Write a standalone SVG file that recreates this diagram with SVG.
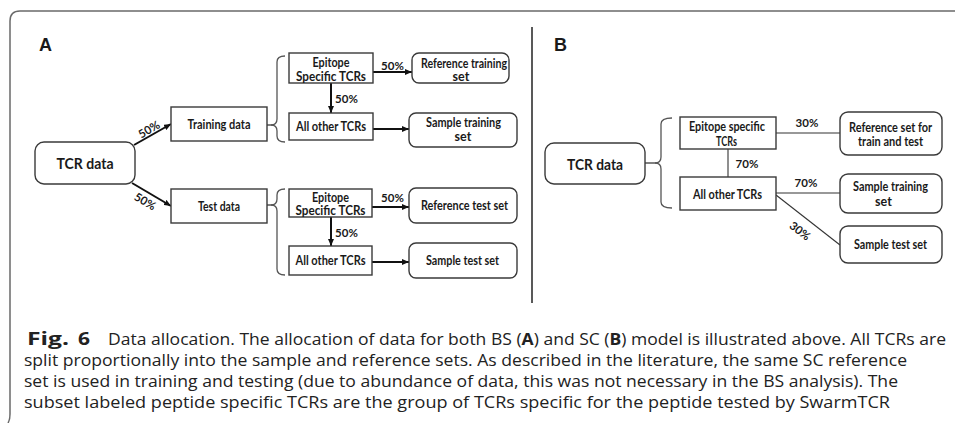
<svg xmlns="http://www.w3.org/2000/svg" width="955" height="423" viewBox="0 0 955 423">
<style>
.box{fill:#fff;stroke:#3a3a3a;stroke-width:1.4}
.lbl{font-family:Lato,"Liberation Sans",sans-serif;font-weight:bold;font-size:12.5px;fill:#1a1a1a;text-anchor:middle}
.big{font-family:Lato,"Liberation Sans",sans-serif;font-weight:bold;font-size:16px;fill:#1a1a1a;text-anchor:middle}
.pct{font-family:Lato,"Liberation Sans",sans-serif;font-weight:bold;font-size:11.5px;fill:#1a1a1a;text-anchor:middle}
.panel{font-family:"Liberation Sans",Arial,sans-serif;font-weight:bold;font-size:18px;fill:#1a1a1a}
.arr{stroke:#111;stroke-width:2;fill:none;marker-end:url(#ah)}
.thin{stroke:#333;stroke-width:1.1;fill:none}
.brace{stroke:#555;stroke-width:1.3;fill:none}
.cap{font-family:"Open Sans","Noto Sans",sans-serif;font-size:16.8px;fill:#222}
.capb{font-weight:bold}
.fig{font-family:"Open Sans","Noto Sans",sans-serif;font-size:17.5px;font-weight:bold;fill:#222}
</style>
<defs>
<marker id="ah" markerWidth="7" markerHeight="6" refX="7" refY="3" orient="auto" markerUnits="userSpaceOnUse">
<path d="M0,0 L7,3 L0,6 Z" fill="#111"/>
</marker>
</defs>
<rect width="955" height="423" fill="#fff"/>
<path d="M8,423 Q10,420 10,414 V21 Q10,11 20,11 H955" fill="none" stroke="#6a6a6a" stroke-width="1.5"/>
<line x1="532" y1="27" x2="532" y2="303" stroke="#222" stroke-width="1.5"/>
<text class="panel" x="39" y="51">A</text>
<text class="panel" x="554" y="51">B</text>

<g id="connectors">
<line class="arr" x1="134" y1="145" x2="171" y2="124"/>
<line class="arr" x1="132" y1="183" x2="171" y2="206"/>
<line class="arr" x1="373" y1="72" x2="412" y2="72"/>
<line class="arr" x1="331" y1="83" x2="331" y2="113"/>
<line class="arr" x1="373" y1="129" x2="409" y2="129"/>
<line class="arr" x1="372" y1="207" x2="409" y2="207"/>
<line class="arr" x1="331" y1="217" x2="331" y2="246"/>
<line class="arr" x1="372" y1="262" x2="409" y2="262"/>
<path class="brace" d="M267,125 H271 Q277,125 277,119 V62 Q277,56 285,56"/>
<path class="brace" d="M271,125 Q277,125 277,131 V136 Q277,142 285,142"/>
<path class="brace" d="M267,205 H271 Q277,205 277,199 V195 Q277,189 285,189"/>
<path class="brace" d="M271,205 Q277,205 277,211 V269 Q277,275 285,275"/>
<path class="brace" d="M645,163 H655 Q661,163 661,157 V124 Q661,118 672,118"/>
<path class="brace" d="M655,163 Q661,163 661,169 V202 Q661,208 672,208"/>
<line class="thin" x1="776" y1="133" x2="840" y2="133"/>
<line class="thin" x1="728" y1="149" x2="728" y2="177"/>
<line class="thin" x1="776" y1="193" x2="840" y2="193"/>
<line class="thin" x1="776" y1="195" x2="840" y2="245"/>
<text class="pct" x="149" y="133.5" transform="rotate(-30 149 129.5)">50%</text>
<text class="pct" x="145" y="205.5" transform="rotate(30 145 201.5)">50%</text>
<text class="pct" x="392.5" y="69.5">50%</text>
<text class="pct" x="346.5" y="103">50%</text>
<text class="pct" x="392.5" y="202">50%</text>
<text class="pct" x="346.5" y="236.5">50%</text>
<text class="pct" x="807" y="127">30%</text>
<text class="pct" x="747" y="168">70%</text>
<text class="pct" x="806" y="187">70%</text>
<text class="pct" x="800" y="235" transform="rotate(38 800 231)">30%</text>
</g>

<g id="a-tcr"><rect class="box" x="35" y="142" width="100" height="42" rx="9"/><text class="big" x="85" y="169" textLength="57" lengthAdjust="spacingAndGlyphs">TCR data</text></g>
<g id="a-train"><rect class="box" x="171" y="107" width="96" height="34"/><text class="lbl" x="219" y="128.5" textLength="63" lengthAdjust="spacingAndGlyphs">Training data</text></g>
<g id="a-test"><rect class="box" x="171" y="189" width="96" height="34"/><text class="lbl" x="219" y="210.5" textLength="42" lengthAdjust="spacingAndGlyphs">Test data</text></g>
<g id="a-epi1"><rect class="box" x="289" y="53" width="84" height="30"/><text class="lbl" x="331" y="67" textLength="37" lengthAdjust="spacingAndGlyphs">Epitope</text><text class="lbl" x="331" y="80.5" textLength="70" lengthAdjust="spacingAndGlyphs">Specific TCRs</text></g>
<g id="a-other1"><rect class="box" x="289" y="113" width="84" height="27"/><text class="lbl" x="331" y="131" textLength="70" lengthAdjust="spacingAndGlyphs">All other TCRs</text></g>
<g id="a-ref1"><rect class="box" x="412" y="53" width="97" height="30" rx="7"/><text class="lbl" x="464" y="67.5" textLength="86" lengthAdjust="spacingAndGlyphs">Reference training</text><text class="lbl" x="461" y="81">set</text></g>
<g id="a-samp1"><rect class="box" x="409" y="113" width="108" height="34" rx="7"/><text class="lbl" x="463.5" y="126.5" textLength="75" lengthAdjust="spacingAndGlyphs">Sample training</text><text class="lbl" x="463" y="141">set</text></g>
<g id="a-epi2"><rect class="box" x="289" y="189" width="83" height="28"/><text class="lbl" x="330.5" y="201.5" textLength="37" lengthAdjust="spacingAndGlyphs">Epitope</text><text class="lbl" x="330.5" y="215" textLength="70" lengthAdjust="spacingAndGlyphs">Specific TCRs</text></g>
<g id="a-other2"><rect class="box" x="289" y="246" width="83" height="29"/><text class="lbl" x="330.5" y="265" textLength="70" lengthAdjust="spacingAndGlyphs">All other TCRs</text></g>
<g id="a-ref2"><rect class="box" x="409" y="188" width="108" height="35" rx="7"/><text class="lbl" x="464.5" y="210" textLength="87" lengthAdjust="spacingAndGlyphs">Reference test set</text></g>
<g id="a-samp2"><rect class="box" x="409" y="243" width="108" height="35" rx="7"/><text class="lbl" x="462.5" y="264.5" textLength="73" lengthAdjust="spacingAndGlyphs">Sample test set</text></g>

<g id="b-tcr"><rect class="box" x="545" y="143" width="100" height="41" rx="9"/><text class="big" x="595" y="169.5" textLength="56" lengthAdjust="spacingAndGlyphs">TCR data</text></g>
<g id="b-epi"><rect class="box" x="680" y="117" width="96" height="32"/><text class="lbl" x="727" y="131" textLength="76" lengthAdjust="spacingAndGlyphs">Epitope specific</text><text class="lbl" x="726.5" y="146" textLength="21" lengthAdjust="spacingAndGlyphs">TCRs</text></g>
<g id="b-other"><rect class="box" x="680" y="177" width="96" height="33"/><text class="lbl" x="727.5" y="199" textLength="69" lengthAdjust="spacingAndGlyphs">All other TCRs</text></g>
<g id="b-ref"><rect class="box" x="840" y="112" width="102" height="43" rx="8"/><text class="lbl" x="890.5" y="131.5" textLength="83" lengthAdjust="spacingAndGlyphs">Reference set for</text><text class="lbl" x="890.5" y="146" textLength="65" lengthAdjust="spacingAndGlyphs">train and test</text></g>
<g id="b-samptrain"><rect class="box" x="840" y="174" width="102" height="39" rx="8"/><text class="lbl" x="890.5" y="190.5" textLength="75" lengthAdjust="spacingAndGlyphs">Sample training</text><text class="lbl" x="883.5" y="206">set</text></g>
<g id="b-samptest"><rect class="box" x="840" y="226" width="102" height="37" rx="8"/><text class="lbl" x="890.5" y="249" textLength="73" lengthAdjust="spacingAndGlyphs">Sample test set</text></g>

<g id="caption">
<text class="fig" x="27" y="345" textLength="42" lengthAdjust="spacingAndGlyphs">Fig.</text>
<text class="fig" x="78" y="345" textLength="12" lengthAdjust="spacingAndGlyphs">6</text>
<text class="cap" x="108" y="345" textLength="838" lengthAdjust="spacingAndGlyphs">Data allocation. The allocation of data for both BS (<tspan class="capb">A</tspan>) and SC (<tspan class="capb">B</tspan>) model is illustrated above. All TCRs are</text>
<text class="cap" x="24" y="366" textLength="883" lengthAdjust="spacingAndGlyphs">split proportionally into the sample and reference sets. As described in the literature, the same SC reference</text>
<text class="cap" x="24" y="387" textLength="874" lengthAdjust="spacingAndGlyphs">set is used in training and testing (due to abundance of data, this was not necessary in the BS analysis). The</text>
<text class="cap" x="24" y="408" textLength="866" lengthAdjust="spacingAndGlyphs">subset labeled peptide specific TCRs are the group of TCRs specific for the peptide tested by SwarmTCR</text>
</g>
</svg>
